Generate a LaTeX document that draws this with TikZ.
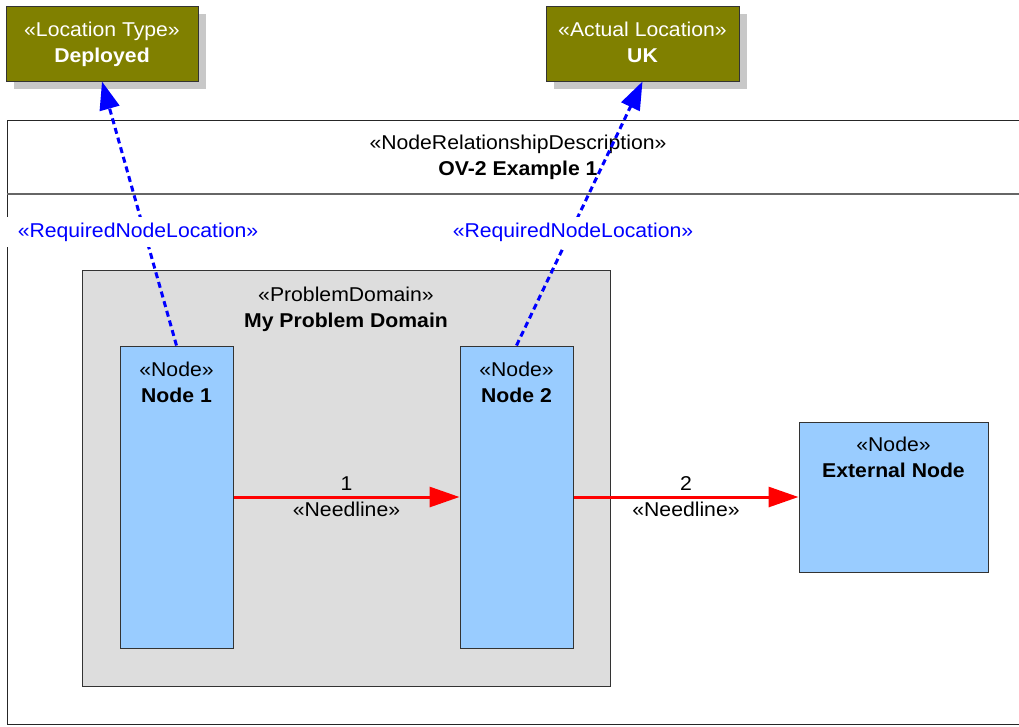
\documentclass[tikz,border=0pt]{standalone}
\usepackage{fontspec}
\setmainfont{Liberation Sans}[FakeStretch=1.06]
\usetikzlibrary{arrows.meta}
\definecolor{olivebox}{HTML}{808000}
\definecolor{nodeblue}{HTML}{99CCFF}
\definecolor{pdgray}{HTML}{DDDDDD}
\definecolor{shadowgray}{HTML}{C8C8C8}
\definecolor{edgegray}{HTML}{333333}
\begin{document}
\begin{tikzpicture}[x=1pt,y=-1pt,
  every node/.style={font=\fontsize{20}{26}\selectfont, inner sep=0pt, align=center, text depth=0pt},
  locbox/.style={draw=edgegray, line width=1pt, fill=olivebox, text=white},
  shadowbox/.style={fill=shadowgray, draw=none},
  nodebox/.style={draw=edgegray, line width=1pt, fill=nodeblue},
  pdbox/.style={draw=edgegray, line width=1pt, fill=pdgray},
  framestyle/.style={draw=black!85, line width=1pt},
  needline/.style={draw=red, line width=3pt, -{Triangle[length=30pt,width=20pt]}},
  reqloc/.style={draw=blue, line width=3pt, dash pattern=on 6pt off 4pt, -{Triangle[length=28pt,width=20pt]}},
  reqlabel/.style={text=blue, fill=white, inner xsep=12pt, inner ysep=6pt, text depth=4pt}
]
\useasboundingbox (0,0) rectangle (1019,726);
% outer frame (cut at right edge)
\draw[framestyle] (1019,120) -- (7,120) -- (7,724) -- (1019,724);
\draw[draw=black!60, line width=2pt] (7,194) -- (1019,194);
\node (title) at (518,155) {«NodeRelationshipDescription»\\\textbf{OV-2 Example 1}};
% location boxes with shadows
\fill[shadowgray] (14,14) rectangle (206,89);
\fill[shadowgray] (554,14) rectangle (747,89);
\node[locbox, minimum width=192pt, minimum height=75pt] (loc1) at (102,43.5) {};
\node[text=white] (loc1t) at (102,42.5) {«Location Type»\\\textbf{Deployed}};
\node[locbox, minimum width=193pt, minimum height=75pt] (loc2) at (642.5,43.5) {};
\node[text=white] (loc2t) at (642.5,42.5) {«Actual Location»\\\textbf{UK}};
% problem domain
\node[pdbox, minimum width=528pt, minimum height=416pt] (pd) at (346,478) {};
\node (pdt) at (346,307.5) {«ProblemDomain»\\\textbf{My Problem Domain}};
% nodes
\node[nodebox, minimum width=113pt, minimum height=302pt] (n1) at (176.5,497) {};
\node (n1t) at (176.5,382) {«Node»\\\textbf{Node 1}};
\node[nodebox, minimum width=113pt, minimum height=302pt] (n2) at (516.5,497) {};
\node (n2t) at (516.5,382) {«Node»\\\textbf{Node 2}};
\node[nodebox, minimum width=189pt, minimum height=150pt] (ext) at (893.5,497) {};
\node (extt) at (893.5,457.5) {«Node»\\\textbf{External Node}};
% needlines
\draw[needline] (n1.east) -- node (nl1) {1\\«Needline»} (n2.west);
\draw[needline] (n2.east) -- node (nl2) {2\\«Needline»} (ext.west);
% required node location
\draw[reqloc] (n1.north) -- (loc1.south);
\draw[reqloc] (n2.north) -- (loc2.south);
\node[reqlabel] (rl1) at (138,232) {«RequiredNodeLocation»};
\node[reqlabel] (rl2) at (573,232) {«RequiredNodeLocation»};
\end{tikzpicture}
\end{document}
